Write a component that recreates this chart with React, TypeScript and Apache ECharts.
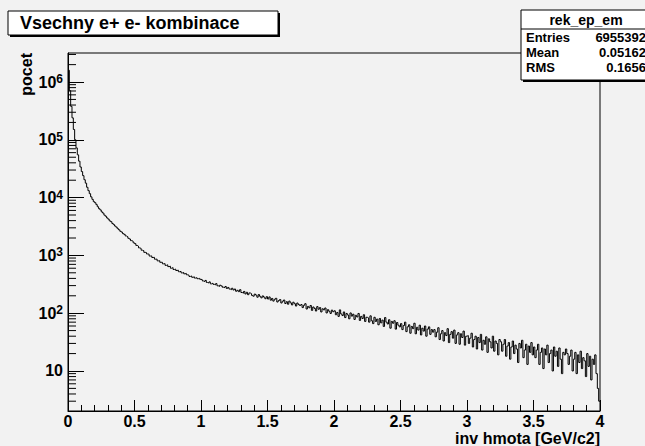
import React, { useEffect, useRef } from "react";
import * as echarts from "echarts";

// ---- data ----
const binWidth = 0.01;
const xMin = 0;
const xMax = 4;
const yMin = 2.03;
const yMax = 3.18e6;
const xLabelInterval = 0.5;

const counts0to1 = [
  1600000, 710000, 380000, 240000, 151000, 100000, 72400, 55000, 42700, 33900,
  28200, 24000, 20400, 17800, 15100, 13200, 11700, 10300, 9330, 8510,
  8150, 7560, 6950, 6430, 6120, 5660, 5400, 4980, 4760, 4450,
  4240, 3960, 3830, 3570, 3410, 3220, 3080, 2900, 2770, 2610,
  2530, 2380, 2310, 2170, 2110, 1980, 1920, 1800, 1760, 1650,
  1600, 1490, 1450, 1350, 1320, 1230, 1210, 1130, 1120, 1060,
  1050, 975, 980, 920, 925, 860, 862, 805, 810, 760,
  760, 715, 720, 672, 688, 640, 650, 600, 615, 570,
  580, 548, 555, 522, 530, 498, 508, 480, 488, 462,
  455, 432, 441, 418, 426, 405, 412, 395, 401, 386,
];
const counts1to2 = [
  380, 361, 352, 369, 340, 333, 348, 322, 331, 316, 309, 325, 298, 290, 305, 296, 281, 276, 290, 268, 279, 262, 255, 270, 252,
  262, 240, 249, 236, 255, 228, 222, 238, 215, 230, 209, 224, 218, 203, 197, 214, 206, 189, 210, 196, 184, 199, 190, 178, 193,
  176, 191, 168, 180, 162, 174, 181, 156, 165, 172, 150, 161, 169, 147, 158, 143, 162, 151, 139, 155, 146, 133, 150, 141, 136,
  141, 125, 137, 146, 118, 131, 124, 136, 112, 128, 121, 109, 130, 117, 125, 105, 119, 114, 123, 101, 115, 108, 99, 113, 106,
];
const counts2to3 = [
  110, 94, 103, 88, 114, 97, 91, 105, 84, 99, 93, 80, 101, 89, 96, 78, 92, 86, 99, 75, 88, 81, 94, 72, 85,
  83, 70, 90, 74, 66, 85, 72, 79, 63, 81, 68, 76, 59, 84, 70, 65, 77, 55, 72, 67, 74, 53, 69, 62, 58,
  66, 52, 61, 70, 48, 58, 63, 45, 59, 54, 67, 44, 57, 51, 62, 42, 55, 49, 60, 40, 53, 58, 43, 52, 47,
  52, 39, 47, 56, 35, 44, 50, 33, 46, 41, 54, 31, 43, 48, 37, 51, 30, 42, 46, 29, 44, 38, 49, 28, 40,
];
const counts3to4 = [
  41, 30, 37, 45, 26, 35, 40, 24, 38, 31, 43, 23, 34, 29, 39, 21, 36, 32, 25, 40, 22, 33, 30, 19, 35,
  32, 22, 29, 35, 18, 27, 31, 16, 26, 33, 20, 28, 24, 14, 30, 25, 34, 17, 23, 29, 13, 27, 21, 31, 19,
  26, 17, 23, 29, 13, 21, 25, 11, 24, 19, 28, 14, 20, 23, 10, 26, 18, 22, 12, 25, 16, 9, 21, 19, 24,
  20, 13, 18, 23, 10, 16, 21, 9, 19, 14, 22, 11, 17, 15, 8, 20, 12, 18, 7, 16, 13, 19, 9, 5, 3,
];

const titleText = "Vsechny e+ e- kombinace";
const xTitle = "inv hmota [GeV/c2]";
const yTitle = "pocet";
const statsName = "rek_ep_em";
const statsLabels = ["Entries", "Mean", "RMS"];
const statsValues = ["6955392", "0.05162", "0.1656"];

const decades = [1, 10, 100, 1000, 10000, 100000, 1000000];
const minorMultipliers = [2, 3, 4, 5, 6, 7, 8, 9];

const FONT = "'Liberation Sans', Arial, Helvetica, sans-serif";

export default function App() {
  const ref = useRef<HTMLDivElement>(null);

  useEffect(() => {
    document.body.style.margin = "0";
    document.body.style.background = "#f2f2f2";
    if (!ref.current) return;
    const chart = echarts.init(ref.current, undefined, { renderer: "svg" });

    const counts = [...counts0to1, ...counts1to2, ...counts2to3, ...counts3to4];
    const histData: number[][] = counts.map((v, i) => [i * binWidth, v]);
    histData.push([xMax, counts[counts.length - 1]]);

    const minorTicks: number[][] = [];
    decades.forEach((d) => {
      minorMultipliers.forEach((m) => {
        const v = d * m;
        if (v > yMin && v < yMax) minorTicks.push([0, v]);
      });
    });

    const rows = statsLabels
      .map((lab, i) => [
        {
          type: "text",
          x: 526,
          y: 37 + i * 15,
          z: 101,
          style: { text: lab, font: `bold 13px ${FONT}`, lineHeight: 13, fill: "#000", align: "left", verticalAlign: "middle" },
        },
        {
          type: "text",
          x: 646,
          y: 37 + i * 15,
          z: 101,
          style: { text: statsValues[i], font: `bold 13px ${FONT}`, lineHeight: 13, fill: "#000", align: "right", verticalAlign: "middle" },
        },
      ])
      .flat();

    chart.setOption({
      animation: false,
      backgroundColor: "#f2f2f2",
      grid: {
        left: 68,
        right: 45,
        top: 53,
        bottom: 35,
        show: true,
        borderColor: "#000",
        borderWidth: 1,
        backgroundColor: "#f2f2f2",
      },
      xAxis: {
        type: "value",
        min: xMin,
        max: xMax,
        interval: xLabelInterval,
        axisLine: { show: true, lineStyle: { color: "#000", width: 1 } },
        axisTick: { show: true, inside: true, length: 11, lineStyle: { color: "#000" } },
        minorTick: { show: true, splitNumber: 5, length: 6, lineStyle: { color: "#000" } },
        splitLine: { show: false },
        axisLabel: {
          color: "#000",
          fontFamily: FONT,
          fontWeight: "bold",
          fontSize: 16,
          lineHeight: 15,
          margin: 3,
        },
      },
      yAxis: {
        type: "log",
        logBase: 10,
        min: yMin,
        max: yMax,
        axisLine: { show: true, lineStyle: { color: "#000", width: 1 } },
        axisTick: { show: true, inside: true, length: 16, lineStyle: { color: "#000" } },
        splitLine: { show: false },
        axisLabel: {
          showMinLabel: false,
          showMaxLabel: false,
          margin: 5,
          color: "#000",
          fontFamily: FONT,
          fontWeight: "bold",
          fontSize: 16,
          formatter: (v: number) => {
            const n = Math.round(Math.log10(v));
            if (Math.abs(Math.log10(v) - n) > 1e-6) return "";
            if (n === 1) return "{b|10}";
            return "{b|10}{s|" + n + "}";
          },
          rich: {
            b: { fontFamily: FONT, fontWeight: "bold", fontSize: 16, color: "#000", lineHeight: 18 },
            s: { fontFamily: FONT, fontWeight: "bold", fontSize: 12, color: "#000", lineHeight: 12, verticalAlign: "top" },
          },
        },
      },
      series: [
        {
          type: "line",
          data: histData,
          step: "end",
          showSymbol: false,
          symbol: "none",
          lineStyle: { color: "#000", width: 1 },
          z: 5,
        },
        {
          type: "custom",
          data: minorTicks,
          encode: { x: 0, y: 1 },
          silent: true,
          z: 6,
          renderItem: (params: any, api: any) => {
            const p = api.coord([0, api.value(1)]);
            return {
              type: "line",
              shape: { x1: p[0], y1: p[1], x2: p[0] + 8, y2: p[1] },
              style: { stroke: "#000", lineWidth: 1 },
            };
          },
        },
      ],
      graphic: [
        { type: "rect", z: 100, shape: { x: 10, y: 13, width: 270, height: 24 }, style: { fill: "#000" } },
        { type: "rect", z: 100, shape: { x: 8, y: 11, width: 270, height: 24 }, style: { fill: "#fff", stroke: "#000", lineWidth: 1 } },
        {
          type: "text",
          z: 101,
          x: 20,
          y: 23,
          style: { text: titleText, font: `bold 18px ${FONT}`, fill: "#000", align: "left", verticalAlign: "middle" },
        },
        { type: "rect", z: 100, shape: { x: 523, y: 12, width: 140, height: 70 }, style: { fill: "#000" } },
        { type: "rect", z: 100, shape: { x: 521, y: 10, width: 140, height: 70 }, style: { fill: "#fff", stroke: "#000", lineWidth: 1 } },
        { type: "line", z: 101, shape: { x1: 521, y1: 29, x2: 661, y2: 29 }, style: { stroke: "#000", lineWidth: 1 } },
        {
          type: "text",
          z: 101,
          x: 586,
          y: 20,
          style: { text: statsName, font: `bold 14px ${FONT}`, lineHeight: 14, fill: "#000", align: "center", verticalAlign: "middle" },
        },
        ...rows,
        {
          type: "text",
          z: 101,
          x: 600,
          y: 438,
          style: { text: xTitle, font: `bold 16px ${FONT}`, lineHeight: 15, fill: "#000", align: "right", verticalAlign: "middle" },
        },
        {
          type: "text",
          z: 101,
          x: 26,
          y: 53,
          rotation: Math.PI / 2,
          style: { text: yTitle, font: `bold 16px ${FONT}`, fill: "#000", align: "right", verticalAlign: "middle" },
        },
      ],
    });

    return () => chart.dispose();
  }, []);

  return (
    <div
      ref={ref}
      style={{ position: "absolute", left: 0, top: 0, width: 645, height: 446, background: "#f2f2f2" }}
    />
  );
}
